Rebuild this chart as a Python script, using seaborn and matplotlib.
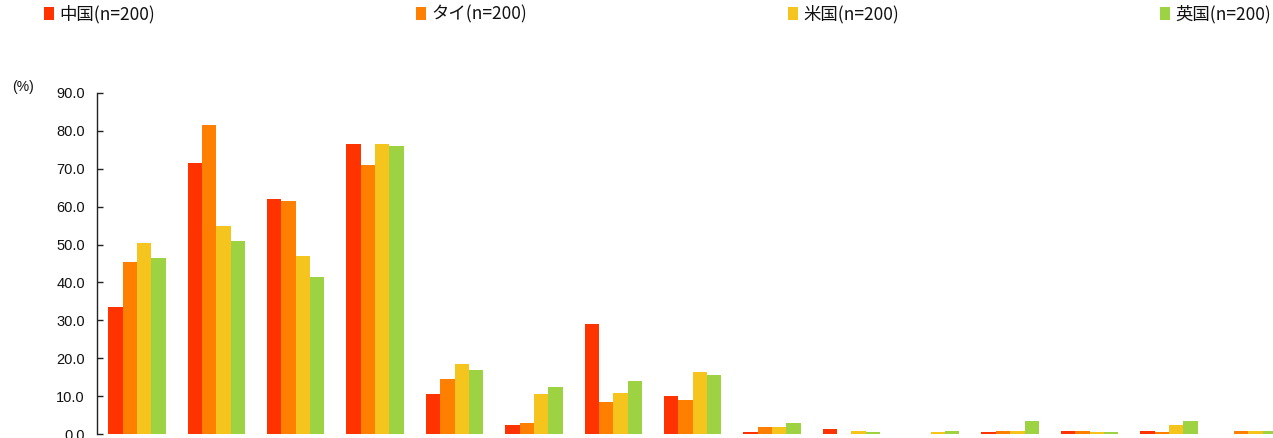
import matplotlib
matplotlib.use("Agg")
import matplotlib.pyplot as plt
from matplotlib.patches import Patch
import seaborn as sns
import pandas as pd

items = [f"項目{i}" for i in range(1, 16)]
countries = ["中国(n=200)", "タイ(n=200)", "米国(n=200)", "英国(n=200)"]
china = [33.5, 71.5, 62.0, 76.5, 10.5, 2.5, 29.0, 10.0, 0.5, 1.5, 0.0, 0.5, 1.0, 1.0, 0.0]
thai = [45.5, 81.5, 61.5, 71.0, 14.5, 3.0, 8.5, 9.0, 2.0, 0.0, 0.0, 1.0, 1.0, 0.5, 1.0]
usa = [50.5, 55.0, 47.0, 76.5, 18.5, 10.5, 11.0, 16.5, 2.0, 1.0, 0.5, 1.0, 0.5, 2.5, 1.0]
uk = [46.5, 51.0, 41.5, 76.0, 17.0, 12.5, 14.0, 15.5, 3.0, 0.5, 1.0, 3.5, 0.5, 3.5, 1.0]
colors = ["#FF3300", "#FF8000", "#F5C51E", "#9DD343"]
yticks = [0, 10, 20, 30, 40, 50, 60, 70, 80, 90]

rows = []
for name, vals in zip(countries, [china, thai, usa, uk]):
    for it, v in zip(items, vals):
        rows.append({"item": it, "country": name, "value": v})
df = pd.DataFrame(rows)

sns.set_theme(style="white")
plt.rcParams["font.family"] = ["Liberation Sans", "Noto Sans CJK JP", "DejaVu Sans"]

fig = plt.figure(figsize=(12.73, 4.38), dpi=100)
W, H = 1273, 438
left_px, right_px = 97.3, 1288.0
bottom_px, top_px = 3.7, 345.3
ax = fig.add_axes([left_px / W, bottom_px / H, (right_px - left_px) / W, (top_px - bottom_px) / H])

sns.barplot(data=df, x="item", y="value", hue="country", hue_order=countries,
            order=items, palette=colors, width=0.723, linewidth=0,
            saturation=1, ax=ax, legend=False, errorbar=None)

ax.set_xlim(-0.5, 14.5)
ax.set_ylim(0, 90)
ax.set_yticks(yticks)
ax.set_yticklabels([f"{t:.1f}" for t in yticks])
ax.set_xticks([])
ax.set_xlabel("")
ax.set_ylabel("")
for s in ["top", "right", "bottom"]:
    ax.spines[s].set_visible(False)
ax.spines["left"].set_color("#222222")
ax.spines["left"].set_linewidth(1.0)
ax.tick_params(axis="y", direction="in", length=4, width=1, color="#222222",
               labelsize=10.5, pad=9, labelcolor="#111111", left=True)

fig.text(12 / W, 1 - 87 / H, "(%)", fontsize=10, ha="left", va="center", color="#111111")

handles = [Patch(facecolor=c, edgecolor="none") for c in colors]
leg = fig.legend(handles, countries, ncol=4, mode="expand", loc="center",
                 bbox_to_anchor=(44 / W, 1 - 25 / H, (1271 - 44) / W, 22 / H),
                 frameon=False, borderpad=0, borderaxespad=0,
                 handlelength=0.6, handleheight=0.8, handletextpad=0.3,
                 prop={"family": ["Noto Sans CJK JP"], "size": 12.5})
for t in leg.get_texts():
    t.set_color("#111111")

fig.savefig("out.png", dpi=100)
